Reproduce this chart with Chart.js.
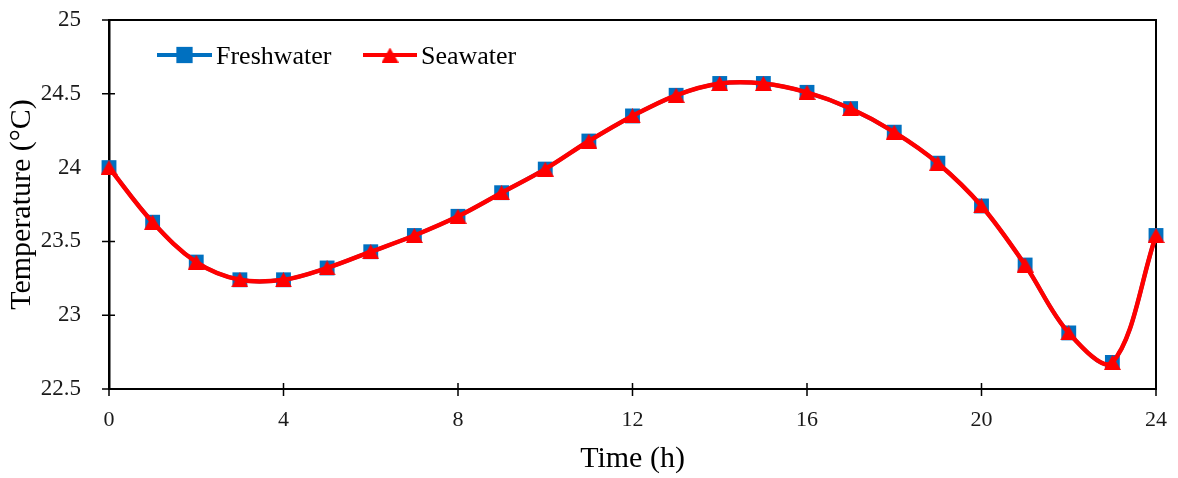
<!DOCTYPE html>
<html>
<head>
<meta charset="utf-8">
<title>Water temperature over 24 h</title>
<script src="https://cdn.jsdelivr.net/npm/chart.js@4/dist/chart.umd.min.js"></script>
<style>
  html, body { margin: 0; padding: 0; background: #ffffff; }
  #wrap { width: 1178px; height: 478px; }
</style>
</head>
<body>
<div id="wrap"><canvas id="chart" width="1178" height="478"></canvas></div>
<script>
// Hourly temperature readings (°C)
const hours = [0, 1, 2, 3, 4, 5, 6, 7, 8, 9, 10, 11, 12, 13, 14, 15, 16, 17, 18, 19, 20, 21, 22, 23, 24];
const freshwater = [24.00, 23.63, 23.36, 23.24, 23.24, 23.32, 23.43, 23.54, 23.67, 23.83, 23.99, 24.18, 24.35,
                    24.49, 24.57, 24.57, 24.51, 24.40, 24.24, 24.03, 23.74, 23.34, 22.88, 22.68, 23.54];
const seawater   = [24.00, 23.63, 23.36, 23.24, 23.24, 23.32, 23.43, 23.54, 23.67, 23.83, 23.99, 24.18, 24.35,
                    24.49, 24.57, 24.57, 24.51, 24.40, 24.24, 24.03, 23.74, 23.34, 22.88, 22.68, 23.54];
const seriesNames = ['Freshwater', 'Seawater'];
const xTickStep = 4;
const yTickStep = 0.5;

const BLUE = '#0070C0';
const RED = '#FF0000';
const FONT = '"Liberation Serif", "Times New Roman", serif';

// Triangle marker whose bounding box is centred on the point
function triangleMarker(w, h, color) {
  const c = document.createElement('canvas');
  c.width = w; c.height = h;
  const g = c.getContext('2d');
  g.fillStyle = color;
  g.beginPath();
  g.moveTo(w / 2, 0);
  g.lineTo(w, h);
  g.lineTo(0, h);
  g.closePath();
  g.fill();
  return c;
}
const redTriangle = triangleMarker(17, 15, RED);

const toPoints = (vals) => hours.map((h, i) => ({ x: h, y: vals[i] }));

// Frame on top/right and tick marks crossing the axes (drawn under the series)
const framePlugin = {
  id: 'frame',
  beforeDatasetsDraw(chart) {
    const { ctx, chartArea: a, scales } = chart;
    ctx.save();
    ctx.strokeStyle = '#000000';
    ctx.lineWidth = 2;
    ctx.beginPath();
    ctx.moveTo(a.left, a.top);
    ctx.lineTo(a.right, a.top);
    ctx.lineTo(a.right, a.bottom);
    ctx.stroke();

    ctx.lineWidth = 1.5;
    ctx.beginPath();
    scales.x.ticks.forEach(t => {
      const px = scales.x.getPixelForValue(t.value);
      ctx.moveTo(px, a.bottom - 6);
      ctx.lineTo(px, a.bottom + 7);
    });
    scales.y.ticks.forEach(t => {
      const py = scales.y.getPixelForValue(t.value);
      ctx.moveTo(a.left - 7, py);
      ctx.lineTo(a.left + 6, py);
    });
    ctx.stroke();
    ctx.restore();
  }
};

// Legend inside the plot, line-and-marker style
const legendPlugin = {
  id: 'inPlotLegend',
  afterDraw(chart) {
    const { ctx } = chart;
    const items = [
      { x1: 157, x2: 212, text: 216, color: BLUE, ds: 0 },
      { x1: 363, x2: 417, text: 421, color: RED, ds: 1 }
    ];
    const ly = 55;
    ctx.save();
    items.forEach(it => {
      const ds = chart.data.datasets[it.ds];
      ctx.strokeStyle = it.color;
      ctx.lineWidth = 4;
      ctx.beginPath();
      ctx.moveTo(it.x1, ly);
      ctx.lineTo(it.x2, ly);
      ctx.stroke();
      const cx = (it.x1 + it.x2) / 2;
      ctx.fillStyle = it.color;
      Chart.helpers.drawPoint(ctx, {
        pointStyle: ds.pointStyle,
        radius: it.ds === 0 ? 11.5 : 9,
        borderWidth: 0,
        rotation: 0
      }, cx, ly);
      ctx.fillStyle = '#000000';
      ctx.font = '26px ' + FONT;
      ctx.textAlign = 'left';
      ctx.textBaseline = 'alphabetic';
      ctx.fillText(ds.label, it.text, 64);
    });
    ctx.restore();
  }
};

// Fixed axis boxes so the plot area keeps its place
function fixBox(size, dim) {
  return (scale) => {
    scale[dim] = size;
    scale.paddingTop = 0;
    scale.paddingBottom = 0;
    scale.paddingLeft = 0;
    scale.paddingRight = 0;
  };
}

new Chart(document.getElementById('chart'), {
  type: 'line',
  data: {
    datasets: [
      {
        label: seriesNames[0],
        data: toPoints(freshwater),
        borderColor: BLUE,
        backgroundColor: BLUE,
        borderWidth: 4,
        pointStyle: 'rect',
        pointRadius: 10.5,
        pointBorderWidth: 0,
        pointBackgroundColor: BLUE,
        tension: 0.35,
        clip: false,
        order: 1
      },
      {
        label: seriesNames[1],
        data: toPoints(seawater),
        borderColor: RED,
        backgroundColor: RED,
        borderWidth: 4.5,
        pointStyle: redTriangle,
        pointRadius: 9,
        pointBorderWidth: 0,
        tension: 0.35,
        clip: false,
        order: 0
      }
    ]
  },
  options: {
    responsive: false,
    animation: false,
    events: [],
    layout: { padding: { top: 20, right: 22, left: 0, bottom: 0 } },
    plugins: {
      legend: { display: false },
      tooltip: { enabled: false }
    },
    scales: {
      x: {
        type: 'linear',
        min: 0,
        max: 24,
        afterFit: fixBox(89, 'height'),
        grid: { display: false },
        border: { display: true, color: '#000000', width: 2 },
        ticks: {
          stepSize: xTickStep,
          padding: 10,
          color: '#1a1a1a',
          font: { family: FONT, size: 22 }
        },
        title: {
          display: true,
          text: 'Time (h)',
          color: '#000000',
          font: { family: FONT, size: 30 },
          padding: { top: 0, bottom: 1 }
        }
      },
      y: {
        min: 22.5,
        max: 25,
        afterFit: fixBox(109, 'width'),
        grid: { display: false },
        border: { display: true, color: '#000000', width: 2.5 },
        ticks: {
          stepSize: yTickStep,
          padding: 20,
          color: '#1a1a1a',
          font: { family: FONT, size: 23 },
          callback: (v) => String(Number(v.toFixed(1)))
        },
        title: {
          display: true,
          text: 'Temperature (°C)',
          color: '#000000',
          font: { family: FONT, size: 30 },
          padding: { top: 4, bottom: 0 }
        }
      }
    }
  },
  plugins: [framePlugin, legendPlugin]
});
</script>
</body>
</html>
